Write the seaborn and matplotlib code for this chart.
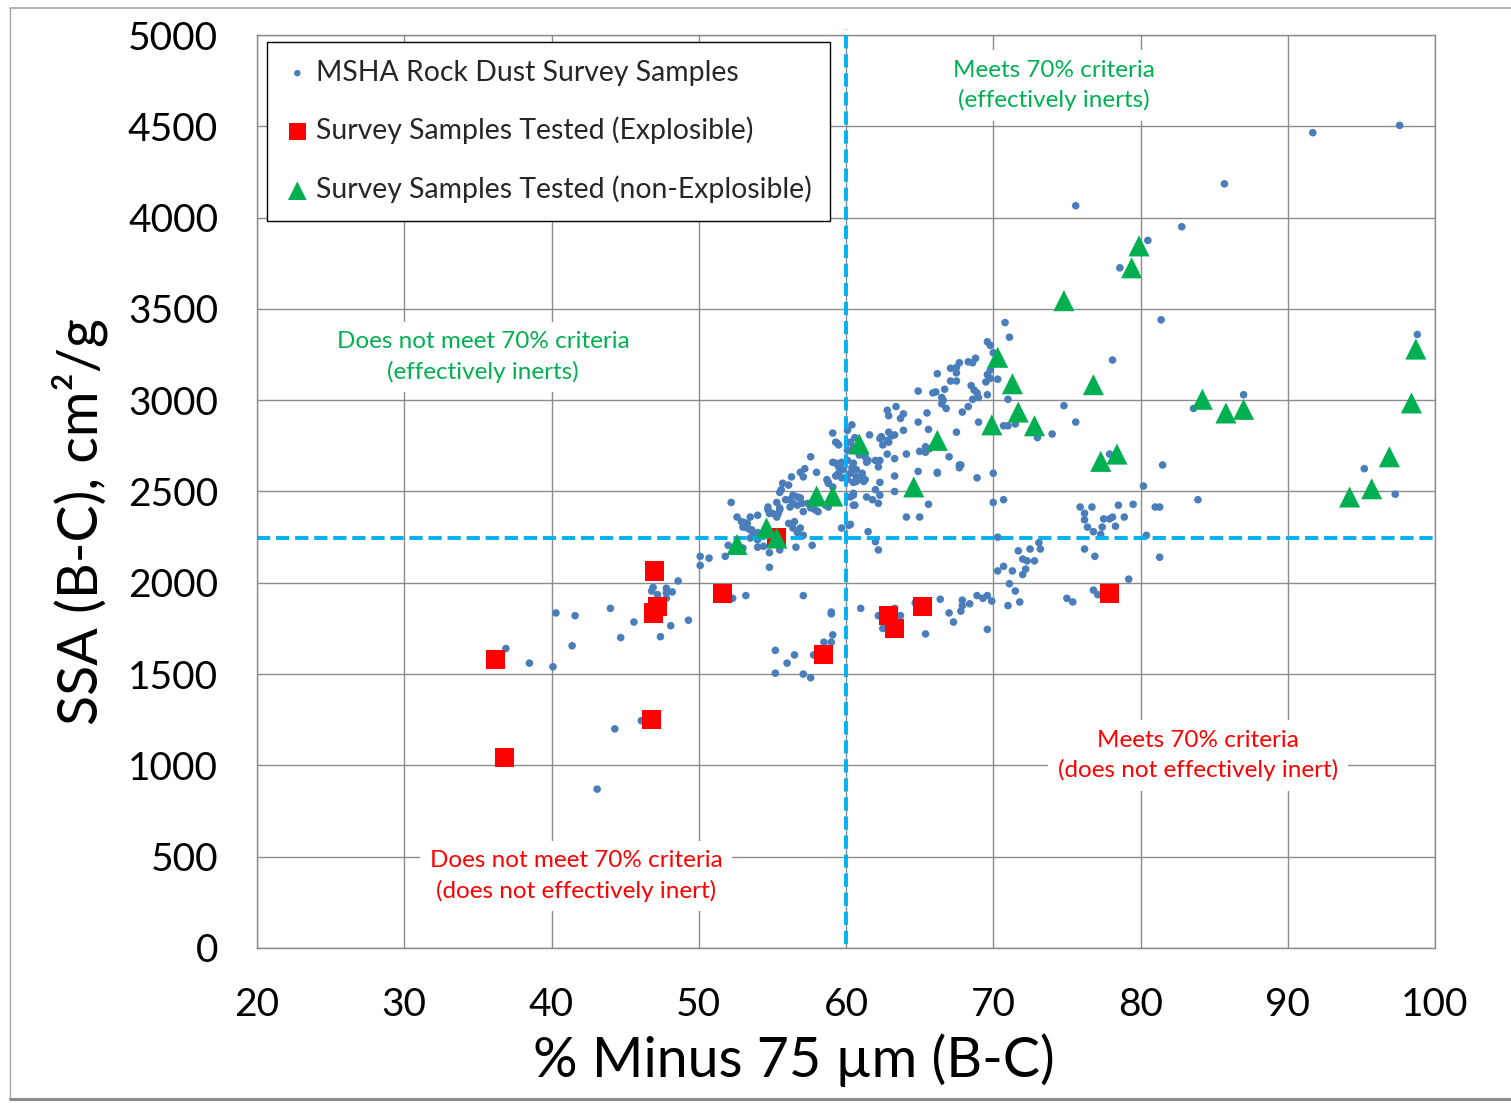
import matplotlib
matplotlib.use("Agg")
import matplotlib.pyplot as plt
from matplotlib.lines import Line2D
import pandas as pd
import seaborn as sns

# ---------------- data ----------------
# MSHA rock dust survey samples: % minus 75 um (B-C) and SSA (B-C), cm2/g
msha_x = [
    36.9, 38.5, 40.1, 40.3, 41.6, 41.4, 44.0, 44.7, 45.6, 44.3, 46.1, 43.1,
    46.9, 46.8, 47.2, 47.8, 48.2, 47.8, 47.8, 48.6, 47.4, 48.1, 49.3,
    50.1, 50.1, 50.7, 51.8, 52.3, 53.2, 54.8, 57.1, 61.0, 59.0, 59.0,
    59.1, 59.0, 58.5, 55.2, 56.0, 56.5, 57.8, 55.2, 57.1, 57.6,
    57.7, 56.6, 55.5, 54.8, 54.0, 54.4, 52.0, 53.0,
    52.2, 54.7, 54.7, 55.0, 55.5, 55.4, 55.3, 54.0, 53.5, 52.6, 52.9, 53.1,
    53.3, 53.0, 53.3, 53.6, 53.7, 53.5, 54.0, 56.1, 56.5, 56.4, 56.9, 57.1,
    56.7, 57.6, 57.1, 57.9, 58.6, 58.8, 59.1, 60.5, 60.5, 60.2, 59.7,
    56.4, 56.7, 56.9, 56.2, 56.4, 56.7, 55.9, 56.2, 57.0,
    57.2, 56.9, 57.1, 56.3, 55.7, 56.1, 55.6, 55.5, 57.6, 58.0, 58.8,
    59.4, 59.5, 59.8, 59.7, 60.1, 59.3, 59.1, 60.1, 59.4,
    55.3, 55.5, 54.8, 54.0, 53.5, 58.7, 59.1, 59.3, 59.5,
    60.5, 60.1, 60.1, 60.3, 60.7, 61.1, 61.3, 60.5, 61.4, 60.3,
    60.4, 59.1, 60.1, 61.6, 62.9, 63.1, 62.8, 62.3, 62.5, 63.9, 65.6, 65.4,
    65.4, 67.5, 59.3, 59.5, 60.6, 60.5, 61.1, 60.9, 61.3, 61.5, 62.3, 62.8,
    62.0, 64.1, 65.0, 63.3, 67.0, 59.7, 62.2, 67.7, 67.8, 66.2, 64.9, 58.8,
    60.4, 60.3, 60.7, 61.1, 61.2, 60.7, 63.3, 62.3, 62.0, 63.3, 60.3, 60.5,
    60.6, 61.4, 61.8, 62.3, 62.2, 65.6, 58.1, 57.4, 64.1, 65.0, 61.5, 62.0,
    62.2,
    70.8, 71.1, 69.6, 69.8, 70.0, 68.8, 68.3, 68.6, 67.7, 67.5, 67.1, 67.5,
    66.2, 69.8, 69.6, 70.3, 69.8, 69.5, 67.1, 67.5, 64.9, 65.9, 66.1, 66.7,
    68.5, 68.7, 68.9, 69.0, 69.6, 66.5, 66.6, 66.5, 66.8, 68.6, 71.0, 63.4,
    62.9, 62.8, 63.9, 63.7, 65.5, 64.9, 68.3, 67.9, 69.0, 70.7, 71.0, 71.5,
    73.0, 74.0, 74.8, 75.6, 62.4, 63.3, 62.9, 65.7, 66.2, 68.9, 67.7, 70.0,
    70.0, 70.7, 70.3,
    62.2, 62.5, 63.3, 63.7, 64.7, 65.4, 66.4, 67.0, 67.3, 67.8, 67.9, 67.9,
    68.4, 68.9, 69.3, 69.6, 69.9, 69.6, 70.3, 70.7, 71.3, 71.1, 71.5, 71.8,
    71.0, 71.7, 72.5, 73.2, 73.1, 72.0, 72.3, 72.8, 72.2, 72.0,
    75.9, 76.7, 78.5, 79.5, 81.0, 81.3, 76.2, 76.2, 77.5, 77.9, 78.1, 78.9,
    76.4, 77.4, 78.3, 76.8, 77.3, 80.4, 76.2, 76.9, 81.3, 79.2, 76.8, 77.1,
    75.0, 75.4, 80.2,
    91.7, 97.6, 85.7, 75.6, 82.8, 80.5, 78.6, 81.4, 78.1, 98.8, 87.0, 83.6,
    81.5, 95.2, 97.3, 83.9, 77.9,
]
msha_y = [
    1640, 1560, 1540, 1835, 1820, 1655, 1860, 1700, 1785, 1200, 1245, 870,
    1975, 1955, 1935, 1970, 1950, 1945, 1915, 2010, 1705, 1765, 1795,
    2145, 2095, 2135, 2145, 1915, 1930, 2085, 1930, 1860, 1840, 1830,
    1715, 1675, 1675, 1630, 1560, 1605, 1605, 1505, 1500, 1480,
    2205, 2195, 2180, 2165, 2195, 2200, 2205, 2190,
    2440, 2415, 2400, 2380, 2400, 2380, 2360, 2370, 2360, 2360, 2335, 2330,
    2325, 2305, 2300, 2290, 2260, 2245, 2235, 2325, 2335, 2300, 2300, 2260,
    2275, 2410, 2390, 2400, 2425, 2415, 2455, 2425, 2490, 2315, 2300,
    2480, 2470, 2465, 2455, 2435, 2425, 2455, 2415, 2435,
    2625, 2605, 2580, 2580, 2545, 2535, 2510, 2495, 2690, 2605, 2545,
    2590, 2635, 2620, 2575, 2565, 2655, 2660, 2765, 2765,
    2440, 2410, 2380, 2275, 2290, 2565, 2525, 2585, 2600,
    2655, 2670, 2725, 2770, 2620, 2600, 2565, 2550, 2660, 2320,
    2865, 2820, 2835, 2810, 2825, 2805, 2780, 2790, 2755, 2835, 2840, 2745,
    2715, 2825, 2770, 2755, 2795, 2740, 2725, 2700, 2690, 2670, 2670, 2705,
    2670, 2705, 2720, 2680, 2690, 2660, 2635, 2630, 2645, 2605, 2610, 2550,
    2630, 2600, 2580, 2580, 2555, 2555, 2585, 2550, 2510, 2500, 2470, 2480,
    2425, 2470, 2455, 2480, 2435, 2430, 2390, 2435, 2360, 2360, 2280, 2225,
    2180,
    3425, 3345, 3320, 3300, 3260, 3230, 3210, 3205, 3205, 3180, 3175, 3150,
    3145, 3165, 3140, 3115, 3120, 3100, 3105, 3105, 3050, 3040, 3045, 3060,
    3080, 3055, 3040, 3015, 3030, 3015, 3000, 2980, 2955, 3005, 3005, 2965,
    2915, 2945, 2925, 2900, 2930, 2880, 2965, 2935, 2880, 2860, 2860, 2870,
    2795, 2815, 2970, 2880, 2800, 2810, 2770, 2735, 2600, 2575, 2645, 2600,
    2440, 2455, 2250,
    1820, 1750, 1860, 1820, 1890, 1720, 1910, 1835, 1785, 1845, 1875, 1905,
    1885, 1930, 1915, 1930, 1900, 1745, 2065, 2090, 2065, 1995, 1955, 1895,
    1875, 2175, 2185, 2185, 2220, 2130, 2120, 2120, 2075, 2045,
    2415, 2415, 2425, 2430, 2415, 2415, 2380, 2345, 2350, 2350, 2360, 2360,
    2305, 2305, 2310, 2280, 2265, 2260, 2185, 2145, 2140, 2020, 1960, 1935,
    1915, 1895, 2530,
    4465, 4505, 4185, 4065, 3950, 3875, 3725, 3440, 3220, 3360, 3030, 2955,
    2645, 2625, 2485, 2455, 2705,
]

# Survey samples tested in the explosibility chamber
expl_x = [36.2, 36.8, 47.0, 47.2, 46.9, 46.8, 51.6, 55.3, 58.5, 62.9, 63.3, 65.2, 77.9]
expl_y = [1580, 1045, 2065, 1870, 1835, 1250, 1940, 2250, 1605, 1820, 1750, 1870, 1940]

nonexpl_x = [52.6, 54.6, 55.3, 58.0, 59.1, 60.9, 64.6, 66.2, 70.3, 71.3, 71.7, 69.9,
             72.8, 74.8, 76.8, 79.4, 79.9, 77.3, 78.4, 84.2, 85.8, 87.0, 94.2, 95.7,
             96.9, 98.4, 98.7]
nonexpl_y = [2210, 2300, 2245, 2475, 2475, 2760, 2525, 2780, 3235, 3090, 2935, 2865,
             2860, 3545, 3085, 3725, 3845, 2665, 2705, 3005, 2930, 2950, 2470, 2515,
             2690, 2985, 3280]

series_labels = ["MSHA Rock Dust Survey Samples",
                 "Survey Samples Tested (Explosible)",
                 "Survey Samples Tested (non-Explosible)"]

x_ticks = [20, 30, 40, 50, 60, 70, 80, 90, 100]
y_ticks = [0, 500, 1000, 1500, 2000, 2500, 3000, 3500, 4000, 4500, 5000]

criteria_pct = 60      # 70% criteria boundary on % minus 75 um
criteria_ssa = 2245    # SSA boundary, cm2/g

quadrant_notes = [
    (74.1, 4723, "Meets 70% criteria\n(effectively inerts)", "#00b050"),
    (35.35, 3236, "Does not meet 70% criteria\n(effectively inerts)", "#00b050"),
    (83.9, 1054, "Meets 70% criteria\n(does not effectively inert)", "#ff0000"),
    (41.66, 394, "Does not meet 70% criteria\n(does not effectively inert)", "#ff0000"),
]

# ---------------- figure ----------------
sns.set_theme(style="white")
plt.rcParams["font.family"] = ["Lato", "DejaVu Sans"]

W, H = 1511, 1103
fig = plt.figure(figsize=(W / 100, H / 100), dpi=100)
fig.patch.set_facecolor("white")
ax = fig.add_axes([257 / W, (H - 948) / H, 1178 / W, 913 / H])

grid_col = "#8c8c8c"
ax.set_axisbelow(True)
ax.grid(True, color=grid_col, lw=1.0)
for sp in ax.spines.values():
    sp.set_color(grid_col)
    sp.set_linewidth(1.0)

df_msha = pd.DataFrame({"pct": msha_x, "ssa": msha_y})
df_expl = pd.DataFrame({"pct": expl_x, "ssa": expl_y})
df_non = pd.DataFrame({"pct": nonexpl_x, "ssa": nonexpl_y})

sns.scatterplot(data=df_msha, x="pct", y="ssa", ax=ax, color="#4a7ebb", s=30,
                edgecolor="none", label=series_labels[0], zorder=3)
dash_style = (0, (3.4, 1.5))
ax.axhline(criteria_ssa, xmin=0, xmax=1.002, color="#00b0f0", lw=2.8,
           ls=dash_style, zorder=3.5, clip_on=False)
ax.axvline(criteria_pct, ymin=0.004, ymax=1.007, color="#00b0f0", lw=2.8,
           ls=dash_style, zorder=3.5, clip_on=False)
sns.scatterplot(data=df_expl, x="pct", y="ssa", ax=ax, color="#ff0000", marker="s",
                s=190, edgecolor="none", label=series_labels[1], zorder=4)
sns.scatterplot(data=df_non, x="pct", y="ssa", ax=ax, color="#00b050", marker="^",
                s=230, edgecolor="none", label=series_labels[2], zorder=5)

ax.set_xlim(20, 100)
ax.set_ylim(0, 5000)
ax.set_xticks(x_ticks)
ax.set_yticks(y_ticks)
ax.set_xlabel("")
ax.set_ylabel("")
ax.tick_params(axis="both", labelsize=28, length=9, width=1.0, color=grid_col,
               labelcolor="black", direction="out")
ax.tick_params(axis="y", pad=19)
ax.tick_params(axis="x", pad=19)

for x, y, txt, col in quadrant_notes:
    ax.text(x, y, txt, color=col, fontsize=17.5, ha="center", va="center",
            multialignment="center", linespacing=1.45, zorder=2,
            bbox=dict(facecolor="white", edgecolor="none", pad=7))

leg = ax.legend(loc="upper left", bbox_to_anchor=(10 / 1178, (948 - 42) / 913),
                borderaxespad=0, frameon=True, fancybox=False, framealpha=1,
                edgecolor="black", fontsize=20.4, labelspacing=1.1, borderpad=0.62,
                handlelength=0.9, handletextpad=0.22, scatterpoints=1)
leg.get_frame().set_linewidth(1.0)
leg.set_zorder(6)
for h, sz in zip(leg.legend_handles, [22, 150, 180]):
    h.set_sizes([sz])

fig.text(794 / W, 1 - 1060 / H, "% Minus 75 µm (B-C)", fontsize=40,
         ha="center", va="center", color="black")
fig.text(80 / W, 1 - 522 / H, "SSA (B-C), cm²/g", fontsize=40, rotation=90,
         ha="center", va="center", color="black")

# thin frame around the whole chart
fig.add_artist(Line2D([10 / W, 10 / W], [1 - 1099 / H, 1 - 8 / H],
                      transform=fig.transFigure, color="#a6a6a6", lw=1.0))
fig.add_artist(Line2D([10 / W, 1.0], [1 - 8 / H, 1 - 8 / H],
                      transform=fig.transFigure, color="#a6a6a6", lw=1.2))
fig.add_artist(Line2D([10 / W, 1.0], [1 - 1099 / H, 1 - 1099 / H],
                      transform=fig.transFigure, color="#8c8c8c", lw=2.2))

fig.savefig("out.png", dpi=100, facecolor="white")
